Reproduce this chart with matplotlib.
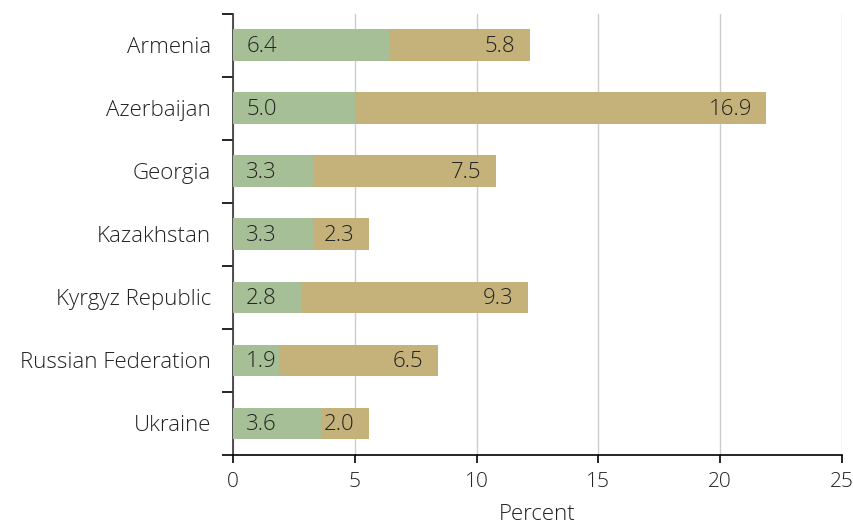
import matplotlib.pyplot as plt
import numpy as np

plt.rcParams['font.family'] = ['Open Sans', 'DejaVu Sans']

countries = ["Armenia", "Azerbaijan", "Georgia", "Kazakhstan",
             "Kyrgyz Republic", "Russian Federation", "Ukraine"]
first_part = [6.4, 5.0, 3.3, 3.3, 2.8, 1.9, 3.6]
second_part = [5.8, 16.9, 7.5, 2.3, 9.3, 6.5, 2.0]
x_ticks = [0, 5, 10, 15, 20, 25]

GREEN = '#a6bf96'
TAN = '#c4b27a'
TEXT = '#222222'


def main():
    fig = plt.figure(figsize=(8.54, 5.26), dpi=100)
    ax = fig.add_axes([233 / 854, 1 - 455 / 526, (842 - 233) / 854, (455 - 13.5) / 526])

    y = np.arange(len(countries))
    ax.barh(y, first_part, height=0.5, color=GREEN, zorder=3)
    ax.barh(y, second_part, left=first_part, height=0.5, color=TAN, zorder=3)

    # labels: green at left of its segment, tan at right end
    for i in range(len(countries)):
        ax.annotate(f"{first_part[i]:.1f}", (0, y[i]), xytext=(9.5, -1),
                    textcoords='offset points', ha='left', va='center',
                    fontsize=16, color=TEXT, weight='light', zorder=4)
        ax.annotate(f"{second_part[i]:.1f}", (first_part[i] + second_part[i], y[i]),
                    xytext=(-10.5, -1), textcoords='offset points', ha='right',
                    va='center', fontsize=16, color=TEXT, weight='light', zorder=4)

    ax.set_ylim(len(countries) - 0.5, -0.5)
    ax.set_xlim(0, 25)
    ax.set_xticks(x_ticks)
    ax.set_xticklabels([str(t) for t in x_ticks], fontsize=15, color=TEXT, weight='light')

    # category labels centred, ticks at the boundaries
    ax.set_yticks(y)
    ax.set_yticklabels(countries, fontsize=16, color=TEXT, weight='light')
    ax.tick_params(axis='y', which='major', length=0, pad=16)
    ax.set_yticks(np.arange(-0.5, len(countries)), minor=True)
    ax.tick_params(axis='y', which='minor', length=8, width=1.2, color='black', direction='out')
    ax.tick_params(axis='x', length=6, width=1.2, color='black', direction='out', pad=6)

    ax.grid(axis='x', color='#cccccc', linewidth=1, zorder=0)
    for side in ['top', 'right']:
        ax.spines[side].set_visible(False)
    ax.spines['left'].set_color('#333333')
    ax.spines['bottom'].set_color('black')
    ax.spines['left'].set_linewidth(1.2)
    ax.spines['bottom'].set_linewidth(1.2)

    ax.set_xlabel("Percent", fontsize=16, color=TEXT, weight='light', labelpad=9)

    fig.savefig("out.png", dpi=100)


if __name__ == '__main__':
    main()
